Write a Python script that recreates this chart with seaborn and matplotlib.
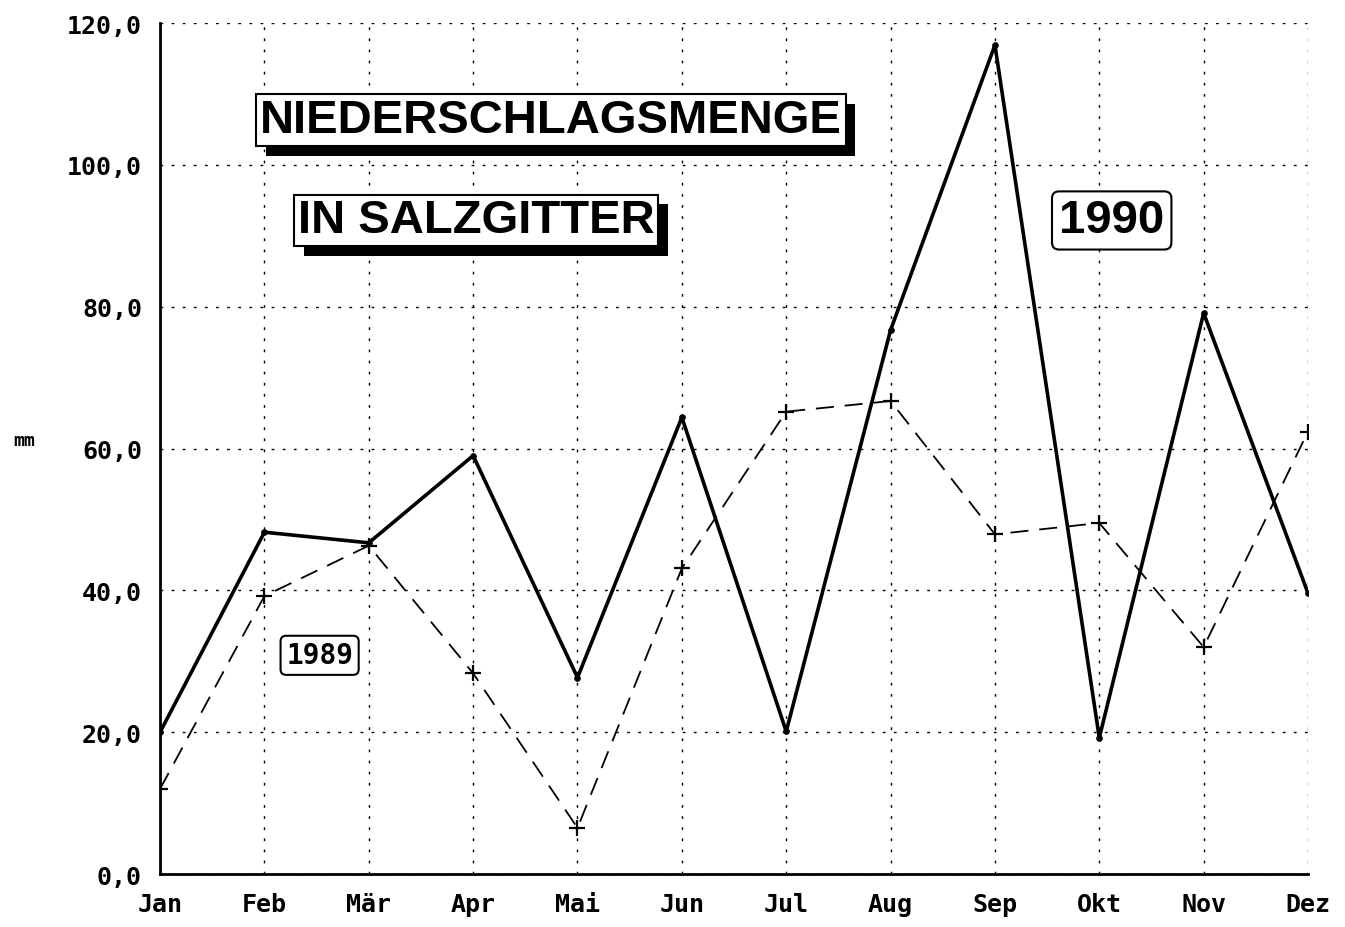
import numpy as np
import pandas as pd
import matplotlib.pyplot as plt
import matplotlib.patheffects as pe
import seaborn as sns

# monthly rainfall in Salzgitter, mm
months = ["Jan", "Feb", "Mär", "Apr", "Mai", "Jun", "Jul", "Aug", "Sep", "Okt", "Nov", "Dez"]
rain_1990 = [20.0, 48.2, 46.7, 59.0, 27.7, 64.4, 20.1, 76.7, 116.9, 19.2, 79.1, 39.6]
rain_1989 = [12.0, 39.2, 46.3, 28.3, 6.5, 43.1, 65.2, 66.7, 47.9, 49.5, 32.0, 62.4]
y_ticks = [0, 20, 40, 60, 80, 100, 120]

df = pd.DataFrame({"pos": np.arange(len(months)), "Monat": months,
                   "1990": rain_1990, "1989": rain_1989})

sns.set_style("white")
plt.rcParams["text.color"] = "black"
plt.rcParams["xtick.color"] = "black"
plt.rcParams["ytick.color"] = "black"
plt.rcParams["axes.labelcolor"] = "black"
mono = ["DejaVu Sans Mono", "DejaVu Sans"]
sans = ["Liberation Sans", "DejaVu Sans"]

fig = plt.figure(figsize=(13.45, 9.28), dpi=100)
ax = fig.add_axes([0.119, 0.0571, 0.8535, 0.917])

#1989 dashed with plus markers
sns.lineplot(data=df, x="pos", y="1989", ax=ax, color="black", lw=1.3,
             linestyle=(0, (10, 6)), marker="+", markersize=11,
             markeredgewidth=1.6, markeredgecolor="black")
#1990 solid with small dots
sns.lineplot(data=df, x="pos", y="1990", ax=ax, color="black", lw=2.6,
             marker="o", markersize=4, markeredgecolor="black")

ax.set_xlim(0, len(months) - 1)
ax.set_ylim(0, 120)
ax.set_xticks(df["pos"])
ax.set_xticklabels(months, fontfamily=mono, fontweight="bold", fontsize=18)
ax.set_yticks(y_ticks)
ax.set_yticklabels([f"{v:.1f}".replace(".", ",") for v in y_ticks],
                   fontfamily=mono, fontweight="bold", fontsize=18)
ax.tick_params(axis="both", direction="inout", length=14, width=1.5, color="black", pad=6)
ax.set_xlabel("")
ax.set_ylabel("mm", rotation=0, fontfamily=mono, fontweight="bold", fontsize=13)
ax.yaxis.set_label_coords(-0.118, 0.5)

ax.grid(True, color="black", lw=1, linestyle=(0, (2, 6)))
for s in ["top", "right"]:
    ax.spines[s].set_visible(False)
for s in ["left", "bottom"]:
    ax.spines[s].set_color("black")
    ax.spines[s].set_linewidth(2)

shadow = [pe.withSimplePatchShadow(offset=(7, -7), shadow_rgbFace="black", alpha=1)]

t1 = ax.text(0.087, 0.886, "NIEDERSCHLAGSMENGE", transform=ax.transAxes,
             fontfamily=sans, fontweight="bold", fontsize=34,
             va="center", ha="left",
             bbox=dict(boxstyle="square,pad=0.08", fc="white", ec="black", lw=1.5))
t1.get_bbox_patch().set_path_effects(shadow)

t2 = ax.text(0.12, 0.768, "IN SALZGITTER", transform=ax.transAxes,
             fontfamily=sans, fontweight="bold", fontsize=34,
             va="center", ha="left",
             bbox=dict(boxstyle="square,pad=0.08", fc="white", ec="black", lw=1.5))
t2.get_bbox_patch().set_path_effects(shadow)

ax.text(0.829, 0.768, "1990", transform=ax.transAxes,
        fontfamily=sans, fontweight="bold", fontsize=34, va="center", ha="center",
        bbox=dict(boxstyle="round,pad=0.15", fc="white", ec="black", lw=1.5))

ax.text(0.139, 0.257, "1989", transform=ax.transAxes,
        fontfamily=mono, fontweight="bold", fontsize=20, va="center", ha="center",
        bbox=dict(boxstyle="round,pad=0.2", fc="white", ec="black", lw=1.5))

plt.savefig("out.png", dpi=100)
